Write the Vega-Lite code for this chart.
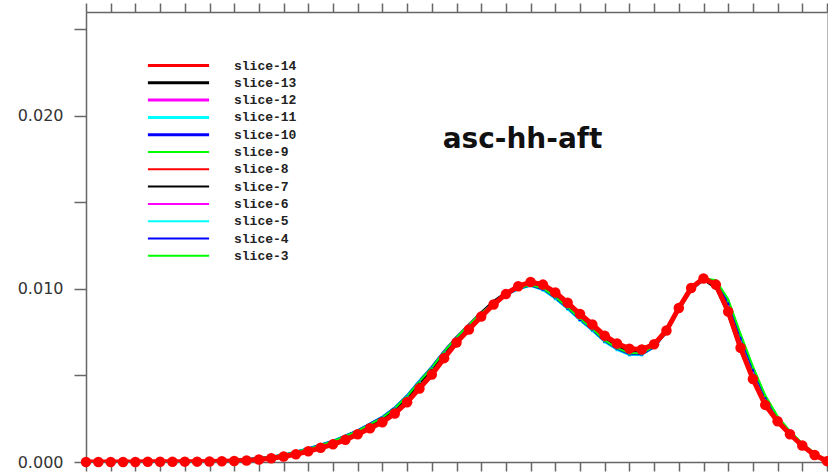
{
 "$schema": "https://vega.github.io/schema/vega-lite/v6.json",
 "width": 741,
 "height": 450,
 "autosize": {"type": "none"},
 "padding": {"left": 86, "top": 12, "right": 1, "bottom": 14},
 "background": "white",
 "view": {"stroke": "#bbbbbb", "strokeWidth": 1},
 "title": {"text": "asc-hh-aft", "font": "DejaVu Sans", "fontSize": 28, "fontWeight": "bold", "color": "#111111", "anchor": "middle", "frame": "group", "dx": 66, "dy": 174, "baseline": "alphabetic", "offset": 0},
 "datasets": {
  "curves": [
{"slice":"slice-14","x":0,"y":0},{"slice":"slice-14","x":0.5,"y":0},{"slice":"slice-14","x":1,"y":0},{"slice":"slice-14","x":1.5,"y":0},{"slice":"slice-14","x":2,"y":0},{"slice":"slice-14","x":2.5,"y":0.00001},{"slice":"slice-14","x":3,"y":0.00001},{"slice":"slice-14","x":3.5,"y":0.00001},{"slice":"slice-14","x":4,"y":0.00002},{"slice":"slice-14","x":4.5,"y":0.00002},{"slice":"slice-14","x":5,"y":0.00003},{"slice":"slice-14","x":5.5,"y":0.00004},{"slice":"slice-14","x":6,"y":0.00006},{"slice":"slice-14","x":6.5,"y":0.00009},{"slice":"slice-14","x":7,"y":0.00014},{"slice":"slice-14","x":7.5,"y":0.00022},{"slice":"slice-14","x":8,"y":0.00032},{"slice":"slice-14","x":8.5,"y":0.00045},{"slice":"slice-14","x":9,"y":0.00062},{"slice":"slice-14","x":9.5,"y":0.00082},{"slice":"slice-14","x":10,"y":0.00102},{"slice":"slice-14","x":10.5,"y":0.00128},{"slice":"slice-14","x":11,"y":0.0016},{"slice":"slice-14","x":11.5,"y":0.00195},{"slice":"slice-14","x":12,"y":0.0023},{"slice":"slice-14","x":12.5,"y":0.0028},{"slice":"slice-14","x":13,"y":0.00345},{"slice":"slice-14","x":13.5,"y":0.00425},{"slice":"slice-14","x":14,"y":0.00505},{"slice":"slice-14","x":14.5,"y":0.006},{"slice":"slice-14","x":15,"y":0.0069},{"slice":"slice-14","x":15.5,"y":0.00765},{"slice":"slice-14","x":16,"y":0.0084},{"slice":"slice-14","x":16.5,"y":0.0091},{"slice":"slice-14","x":17,"y":0.0097},{"slice":"slice-14","x":17.5,"y":0.01015},{"slice":"slice-14","x":18,"y":0.0104},{"slice":"slice-14","x":18.5,"y":0.01025},{"slice":"slice-14","x":19,"y":0.0098},{"slice":"slice-14","x":19.5,"y":0.0092},{"slice":"slice-14","x":20,"y":0.00855},{"slice":"slice-14","x":20.5,"y":0.00795},{"slice":"slice-14","x":21,"y":0.0073},{"slice":"slice-14","x":21.5,"y":0.00685},{"slice":"slice-14","x":22,"y":0.00655},{"slice":"slice-14","x":22.5,"y":0.0065},{"slice":"slice-14","x":23,"y":0.0068},{"slice":"slice-14","x":23.5,"y":0.0076},{"slice":"slice-14","x":24,"y":0.0089},{"slice":"slice-14","x":24.5,"y":0.01005},{"slice":"slice-14","x":25,"y":0.0106},{"slice":"slice-14","x":25.5,"y":0.01025},{"slice":"slice-14","x":26,"y":0.0087},{"slice":"slice-14","x":26.5,"y":0.0066},{"slice":"slice-14","x":27,"y":0.0048},{"slice":"slice-14","x":27.5,"y":0.0033},{"slice":"slice-14","x":28,"y":0.00235},{"slice":"slice-14","x":28.5,"y":0.0016},{"slice":"slice-14","x":29,"y":0.00095},{"slice":"slice-14","x":29.5,"y":0.0004},{"slice":"slice-14","x":30,"y":0.00005},

{"slice":"slice-13","x":0,"y":0},{"slice":"slice-13","x":2,"y":0},{"slice":"slice-13","x":4,"y":0.00002},{"slice":"slice-13","x":6,"y":0.00009},{"slice":"slice-13","x":7,"y":0.0002},{"slice":"slice-13","x":8,"y":0.00038},{"slice":"slice-13","x":9,"y":0.00072},{"slice":"slice-13","x":10,"y":0.00115},{"slice":"slice-13","x":11,"y":0.00175},{"slice":"slice-13","x":12,"y":0.00252},{"slice":"slice-13","x":12.5,"y":0.00305},{"slice":"slice-13","x":13,"y":0.00375},{"slice":"slice-13","x":13.5,"y":0.0046},{"slice":"slice-13","x":14,"y":0.0054},{"slice":"slice-13","x":14.5,"y":0.00635},{"slice":"slice-13","x":15,"y":0.0072},{"slice":"slice-13","x":15.5,"y":0.00795},{"slice":"slice-13","x":16,"y":0.00865},{"slice":"slice-13","x":16.5,"y":0.0093},{"slice":"slice-13","x":17,"y":0.0098},{"slice":"slice-13","x":17.5,"y":0.0102},{"slice":"slice-13","x":18,"y":0.01035},{"slice":"slice-13","x":18.5,"y":0.01015},{"slice":"slice-13","x":19,"y":0.00965},{"slice":"slice-13","x":19.5,"y":0.00905},{"slice":"slice-13","x":20,"y":0.0084},{"slice":"slice-13","x":20.5,"y":0.0078},{"slice":"slice-13","x":21,"y":0.0072},{"slice":"slice-13","x":21.5,"y":0.00675},{"slice":"slice-13","x":22,"y":0.00645},{"slice":"slice-13","x":22.5,"y":0.00645},{"slice":"slice-13","x":23,"y":0.00685},{"slice":"slice-13","x":23.5,"y":0.0077},{"slice":"slice-13","x":24,"y":0.009},{"slice":"slice-13","x":24.5,"y":0.0101},{"slice":"slice-13","x":25,"y":0.01055},{"slice":"slice-13","x":25.5,"y":0.0101},{"slice":"slice-13","x":26,"y":0.0085},{"slice":"slice-13","x":26.5,"y":0.0064},{"slice":"slice-13","x":27,"y":0.0047},{"slice":"slice-13","x":27.5,"y":0.0033},{"slice":"slice-13","x":28,"y":0.00235},{"slice":"slice-13","x":28.5,"y":0.0016},{"slice":"slice-13","x":29,"y":0.00095},{"slice":"slice-13","x":29.5,"y":0.00042},{"slice":"slice-13","x":30,"y":0.00006},

{"slice":"slice-12","x":0,"y":0},{"slice":"slice-12","x":2,"y":0},{"slice":"slice-12","x":4,"y":0.00002},{"slice":"slice-12","x":6,"y":0.0001},{"slice":"slice-12","x":7,"y":0.00022},{"slice":"slice-12","x":8,"y":0.0004},{"slice":"slice-12","x":9,"y":0.00076},{"slice":"slice-12","x":10,"y":0.0012},{"slice":"slice-12","x":11,"y":0.0018},{"slice":"slice-12","x":12,"y":0.00258},{"slice":"slice-12","x":12.5,"y":0.00312},{"slice":"slice-12","x":13,"y":0.00382},{"slice":"slice-12","x":13.5,"y":0.00468},{"slice":"slice-12","x":14,"y":0.00548},{"slice":"slice-12","x":14.5,"y":0.0064},{"slice":"slice-12","x":15,"y":0.00722},{"slice":"slice-12","x":15.5,"y":0.00795},{"slice":"slice-12","x":16,"y":0.0086},{"slice":"slice-12","x":16.5,"y":0.0092},{"slice":"slice-12","x":17,"y":0.0097},{"slice":"slice-12","x":17.5,"y":0.01005},{"slice":"slice-12","x":18,"y":0.01025},{"slice":"slice-12","x":18.5,"y":0.01005},{"slice":"slice-12","x":19,"y":0.00955},{"slice":"slice-12","x":19.5,"y":0.00895},{"slice":"slice-12","x":20,"y":0.0083},{"slice":"slice-12","x":20.5,"y":0.0077},{"slice":"slice-12","x":21,"y":0.00705},{"slice":"slice-12","x":21.5,"y":0.0066},{"slice":"slice-12","x":22,"y":0.0063},{"slice":"slice-12","x":22.5,"y":0.0063},{"slice":"slice-12","x":23,"y":0.0067},{"slice":"slice-12","x":23.5,"y":0.00755},{"slice":"slice-12","x":24,"y":0.00885},{"slice":"slice-12","x":24.5,"y":0.01},{"slice":"slice-12","x":25,"y":0.01055},{"slice":"slice-12","x":25.5,"y":0.01035},{"slice":"slice-12","x":26,"y":0.009},{"slice":"slice-12","x":26.5,"y":0.007},{"slice":"slice-12","x":27,"y":0.0052},{"slice":"slice-12","x":27.5,"y":0.0036},{"slice":"slice-12","x":28,"y":0.0025},{"slice":"slice-12","x":28.5,"y":0.0017},{"slice":"slice-12","x":29,"y":0.001},{"slice":"slice-12","x":29.5,"y":0.00045},{"slice":"slice-12","x":30,"y":0.00008},

{"slice":"slice-11","x":0,"y":0},{"slice":"slice-11","x":2,"y":0},{"slice":"slice-11","x":4,"y":0.00002},{"slice":"slice-11","x":6,"y":0.0001},{"slice":"slice-11","x":7,"y":0.00023},{"slice":"slice-11","x":8,"y":0.00041},{"slice":"slice-11","x":9,"y":0.00078},{"slice":"slice-11","x":10,"y":0.00122},{"slice":"slice-11","x":11,"y":0.00182},{"slice":"slice-11","x":12,"y":0.0026},{"slice":"slice-11","x":12.5,"y":0.00315},{"slice":"slice-11","x":13,"y":0.00385},{"slice":"slice-11","x":13.5,"y":0.0047},{"slice":"slice-11","x":14,"y":0.0055},{"slice":"slice-11","x":14.5,"y":0.0064},{"slice":"slice-11","x":15,"y":0.0072},{"slice":"slice-11","x":15.5,"y":0.0079},{"slice":"slice-11","x":16,"y":0.00855},{"slice":"slice-11","x":16.5,"y":0.00915},{"slice":"slice-11","x":17,"y":0.00965},{"slice":"slice-11","x":17.5,"y":0.01},{"slice":"slice-11","x":18,"y":0.0102},{"slice":"slice-11","x":18.5,"y":0.00995},{"slice":"slice-11","x":19,"y":0.00945},{"slice":"slice-11","x":19.5,"y":0.00885},{"slice":"slice-11","x":20,"y":0.0082},{"slice":"slice-11","x":20.5,"y":0.0076},{"slice":"slice-11","x":21,"y":0.00695},{"slice":"slice-11","x":21.5,"y":0.0065},{"slice":"slice-11","x":22,"y":0.0062},{"slice":"slice-11","x":22.5,"y":0.0062},{"slice":"slice-11","x":23,"y":0.00665},{"slice":"slice-11","x":23.5,"y":0.0075},{"slice":"slice-11","x":24,"y":0.0088},{"slice":"slice-11","x":24.5,"y":0.00995},{"slice":"slice-11","x":25,"y":0.0105},{"slice":"slice-11","x":25.5,"y":0.0103},{"slice":"slice-11","x":26,"y":0.0089},{"slice":"slice-11","x":26.5,"y":0.0069},{"slice":"slice-11","x":27,"y":0.0051},{"slice":"slice-11","x":27.5,"y":0.00355},{"slice":"slice-11","x":28,"y":0.00245},{"slice":"slice-11","x":28.5,"y":0.00165},{"slice":"slice-11","x":29,"y":0.00098},{"slice":"slice-11","x":29.5,"y":0.00044},{"slice":"slice-11","x":30,"y":0.00007},

{"slice":"slice-10","x":0,"y":0},{"slice":"slice-10","x":2,"y":0},{"slice":"slice-10","x":4,"y":0.00002},{"slice":"slice-10","x":6,"y":0.0001},{"slice":"slice-10","x":7,"y":0.00022},{"slice":"slice-10","x":8,"y":0.0004},{"slice":"slice-10","x":9,"y":0.00077},{"slice":"slice-10","x":10,"y":0.00121},{"slice":"slice-10","x":11,"y":0.00181},{"slice":"slice-10","x":12,"y":0.00259},{"slice":"slice-10","x":12.5,"y":0.00313},{"slice":"slice-10","x":13,"y":0.00383},{"slice":"slice-10","x":13.5,"y":0.00468},{"slice":"slice-10","x":14,"y":0.00548},{"slice":"slice-10","x":14.5,"y":0.0064},{"slice":"slice-10","x":15,"y":0.00722},{"slice":"slice-10","x":15.5,"y":0.00793},{"slice":"slice-10","x":16,"y":0.00858},{"slice":"slice-10","x":16.5,"y":0.00918},{"slice":"slice-10","x":17,"y":0.00968},{"slice":"slice-10","x":17.5,"y":0.01003},{"slice":"slice-10","x":18,"y":0.01022},{"slice":"slice-10","x":18.5,"y":0.01},{"slice":"slice-10","x":19,"y":0.0095},{"slice":"slice-10","x":19.5,"y":0.0089},{"slice":"slice-10","x":20,"y":0.00825},{"slice":"slice-10","x":20.5,"y":0.00765},{"slice":"slice-10","x":21,"y":0.007},{"slice":"slice-10","x":21.5,"y":0.00655},{"slice":"slice-10","x":22,"y":0.00625},{"slice":"slice-10","x":22.5,"y":0.00625},{"slice":"slice-10","x":23,"y":0.00665},{"slice":"slice-10","x":23.5,"y":0.0075},{"slice":"slice-10","x":24,"y":0.0088},{"slice":"slice-10","x":24.5,"y":0.00995},{"slice":"slice-10","x":25,"y":0.01055},{"slice":"slice-10","x":25.5,"y":0.0104},{"slice":"slice-10","x":26,"y":0.00915},{"slice":"slice-10","x":26.5,"y":0.00715},{"slice":"slice-10","x":27,"y":0.0053},{"slice":"slice-10","x":27.5,"y":0.0037},{"slice":"slice-10","x":28,"y":0.00255},{"slice":"slice-10","x":28.5,"y":0.00172},{"slice":"slice-10","x":29,"y":0.00102},{"slice":"slice-10","x":29.5,"y":0.00047},{"slice":"slice-10","x":30,"y":0.00009},

{"slice":"slice-9","x":0,"y":0},{"slice":"slice-9","x":2,"y":0},{"slice":"slice-9","x":4,"y":0.00002},{"slice":"slice-9","x":6,"y":0.0001},{"slice":"slice-9","x":7,"y":0.00022},{"slice":"slice-9","x":8,"y":0.0004},{"slice":"slice-9","x":9,"y":0.00075},{"slice":"slice-9","x":10,"y":0.00119},{"slice":"slice-9","x":11,"y":0.00179},{"slice":"slice-9","x":12,"y":0.00256},{"slice":"slice-9","x":12.5,"y":0.0031},{"slice":"slice-9","x":13,"y":0.0038},{"slice":"slice-9","x":13.5,"y":0.00465},{"slice":"slice-9","x":14,"y":0.00545},{"slice":"slice-9","x":14.5,"y":0.00638},{"slice":"slice-9","x":15,"y":0.0072},{"slice":"slice-9","x":15.5,"y":0.00793},{"slice":"slice-9","x":16,"y":0.00858},{"slice":"slice-9","x":16.5,"y":0.00918},{"slice":"slice-9","x":17,"y":0.00968},{"slice":"slice-9","x":17.5,"y":0.01005},{"slice":"slice-9","x":18,"y":0.01025},{"slice":"slice-9","x":18.5,"y":0.01005},{"slice":"slice-9","x":19,"y":0.00955},{"slice":"slice-9","x":19.5,"y":0.00895},{"slice":"slice-9","x":20,"y":0.0083},{"slice":"slice-9","x":20.5,"y":0.0077},{"slice":"slice-9","x":21,"y":0.00705},{"slice":"slice-9","x":21.5,"y":0.0066},{"slice":"slice-9","x":22,"y":0.0063},{"slice":"slice-9","x":22.5,"y":0.0063},{"slice":"slice-9","x":23,"y":0.0067},{"slice":"slice-9","x":23.5,"y":0.00752},{"slice":"slice-9","x":24,"y":0.0088},{"slice":"slice-9","x":24.5,"y":0.00998},{"slice":"slice-9","x":25,"y":0.0106},{"slice":"slice-9","x":25.5,"y":0.01045},{"slice":"slice-9","x":26,"y":0.0093},{"slice":"slice-9","x":26.5,"y":0.0073},{"slice":"slice-9","x":27,"y":0.00545},{"slice":"slice-9","x":27.5,"y":0.0038},{"slice":"slice-9","x":28,"y":0.0026},{"slice":"slice-9","x":28.5,"y":0.00175},{"slice":"slice-9","x":29,"y":0.00105},{"slice":"slice-9","x":29.5,"y":0.0005},{"slice":"slice-9","x":30,"y":0.0001},

{"slice":"slice-8","x":0,"y":0},{"slice":"slice-8","x":2,"y":0},{"slice":"slice-8","x":4,"y":0.00002},{"slice":"slice-8","x":6,"y":0.00008},{"slice":"slice-8","x":7,"y":0.00018},{"slice":"slice-8","x":8,"y":0.00036},{"slice":"slice-8","x":9,"y":0.00068},{"slice":"slice-8","x":10,"y":0.0011},{"slice":"slice-8","x":11,"y":0.0017},{"slice":"slice-8","x":12,"y":0.00245},{"slice":"slice-8","x":12.5,"y":0.00298},{"slice":"slice-8","x":13,"y":0.00365},{"slice":"slice-8","x":13.5,"y":0.0045},{"slice":"slice-8","x":14,"y":0.0053},{"slice":"slice-8","x":14.5,"y":0.00625},{"slice":"slice-8","x":15,"y":0.0071},{"slice":"slice-8","x":15.5,"y":0.00785},{"slice":"slice-8","x":16,"y":0.0086},{"slice":"slice-8","x":16.5,"y":0.00925},{"slice":"slice-8","x":17,"y":0.00978},{"slice":"slice-8","x":17.5,"y":0.0102},{"slice":"slice-8","x":18,"y":0.01038},{"slice":"slice-8","x":18.5,"y":0.0102},{"slice":"slice-8","x":19,"y":0.0097},{"slice":"slice-8","x":19.5,"y":0.0091},{"slice":"slice-8","x":20,"y":0.00845},{"slice":"slice-8","x":20.5,"y":0.00785},{"slice":"slice-8","x":21,"y":0.00722},{"slice":"slice-8","x":21.5,"y":0.00678},{"slice":"slice-8","x":22,"y":0.00648},{"slice":"slice-8","x":22.5,"y":0.00645},{"slice":"slice-8","x":23,"y":0.00682},{"slice":"slice-8","x":23.5,"y":0.00765},{"slice":"slice-8","x":24,"y":0.00895},{"slice":"slice-8","x":24.5,"y":0.01008},{"slice":"slice-8","x":25,"y":0.01058},{"slice":"slice-8","x":25.5,"y":0.0102},{"slice":"slice-8","x":26,"y":0.0086},{"slice":"slice-8","x":26.5,"y":0.0065},{"slice":"slice-8","x":27,"y":0.00475},{"slice":"slice-8","x":27.5,"y":0.00332},{"slice":"slice-8","x":28,"y":0.00235},{"slice":"slice-8","x":28.5,"y":0.0016},{"slice":"slice-8","x":29,"y":0.00095},{"slice":"slice-8","x":29.5,"y":0.00042},{"slice":"slice-8","x":30,"y":0.00006},

{"slice":"slice-7","x":0,"y":0},{"slice":"slice-7","x":2,"y":0},{"slice":"slice-7","x":4,"y":0.00002},{"slice":"slice-7","x":6,"y":0.00009},{"slice":"slice-7","x":7,"y":0.0002},{"slice":"slice-7","x":8,"y":0.00037},{"slice":"slice-7","x":9,"y":0.0007},{"slice":"slice-7","x":10,"y":0.00113},{"slice":"slice-7","x":11,"y":0.00173},{"slice":"slice-7","x":12,"y":0.0025},{"slice":"slice-7","x":12.5,"y":0.00302},{"slice":"slice-7","x":13,"y":0.0037},{"slice":"slice-7","x":13.5,"y":0.00456},{"slice":"slice-7","x":14,"y":0.00535},{"slice":"slice-7","x":14.5,"y":0.0063},{"slice":"slice-7","x":15,"y":0.00716},{"slice":"slice-7","x":15.5,"y":0.00792},{"slice":"slice-7","x":16,"y":0.00862},{"slice":"slice-7","x":16.5,"y":0.00927},{"slice":"slice-7","x":17,"y":0.00978},{"slice":"slice-7","x":17.5,"y":0.01018},{"slice":"slice-7","x":18,"y":0.0103},{"slice":"slice-7","x":18.5,"y":0.0101},{"slice":"slice-7","x":19,"y":0.0096},{"slice":"slice-7","x":19.5,"y":0.009},{"slice":"slice-7","x":20,"y":0.00835},{"slice":"slice-7","x":20.5,"y":0.00775},{"slice":"slice-7","x":21,"y":0.00715},{"slice":"slice-7","x":21.5,"y":0.0067},{"slice":"slice-7","x":22,"y":0.0064},{"slice":"slice-7","x":22.5,"y":0.0064},{"slice":"slice-7","x":23,"y":0.0068},{"slice":"slice-7","x":23.5,"y":0.00765},{"slice":"slice-7","x":24,"y":0.00895},{"slice":"slice-7","x":24.5,"y":0.01005},{"slice":"slice-7","x":25,"y":0.01052},{"slice":"slice-7","x":25.5,"y":0.01005},{"slice":"slice-7","x":26,"y":0.0086},{"slice":"slice-7","x":26.5,"y":0.0065},{"slice":"slice-7","x":27,"y":0.00472},{"slice":"slice-7","x":27.5,"y":0.0033},{"slice":"slice-7","x":28,"y":0.00235},{"slice":"slice-7","x":28.5,"y":0.0016},{"slice":"slice-7","x":29,"y":0.00095},{"slice":"slice-7","x":29.5,"y":0.00042},{"slice":"slice-7","x":30,"y":0.00006},

{"slice":"slice-6","x":0,"y":0},{"slice":"slice-6","x":2,"y":0},{"slice":"slice-6","x":4,"y":0.00002},{"slice":"slice-6","x":6,"y":0.0001},{"slice":"slice-6","x":7,"y":0.00022},{"slice":"slice-6","x":8,"y":0.00041},{"slice":"slice-6","x":9,"y":0.00077},{"slice":"slice-6","x":10,"y":0.00121},{"slice":"slice-6","x":11,"y":0.00181},{"slice":"slice-6","x":12,"y":0.0026},{"slice":"slice-6","x":12.5,"y":0.00314},{"slice":"slice-6","x":13,"y":0.00384},{"slice":"slice-6","x":13.5,"y":0.0047},{"slice":"slice-6","x":14,"y":0.0055},{"slice":"slice-6","x":14.5,"y":0.00642},{"slice":"slice-6","x":15,"y":0.00723},{"slice":"slice-6","x":15.5,"y":0.00796},{"slice":"slice-6","x":16,"y":0.0086},{"slice":"slice-6","x":16.5,"y":0.0092},{"slice":"slice-6","x":17,"y":0.00968},{"slice":"slice-6","x":17.5,"y":0.01003},{"slice":"slice-6","x":18,"y":0.01022},{"slice":"slice-6","x":18.5,"y":0.01002},{"slice":"slice-6","x":19,"y":0.00952},{"slice":"slice-6","x":19.5,"y":0.00892},{"slice":"slice-6","x":20,"y":0.00827},{"slice":"slice-6","x":20.5,"y":0.00767},{"slice":"slice-6","x":21,"y":0.00702},{"slice":"slice-6","x":21.5,"y":0.00657},{"slice":"slice-6","x":22,"y":0.00628},{"slice":"slice-6","x":22.5,"y":0.00628},{"slice":"slice-6","x":23,"y":0.00668},{"slice":"slice-6","x":23.5,"y":0.00753},{"slice":"slice-6","x":24,"y":0.00883},{"slice":"slice-6","x":24.5,"y":0.00998},{"slice":"slice-6","x":25,"y":0.01053},{"slice":"slice-6","x":25.5,"y":0.01032},{"slice":"slice-6","x":26,"y":0.00895},{"slice":"slice-6","x":26.5,"y":0.00695},{"slice":"slice-6","x":27,"y":0.00515},{"slice":"slice-6","x":27.5,"y":0.00358},{"slice":"slice-6","x":28,"y":0.00248},{"slice":"slice-6","x":28.5,"y":0.00168},{"slice":"slice-6","x":29,"y":0.001},{"slice":"slice-6","x":29.5,"y":0.00045},{"slice":"slice-6","x":30,"y":0.00008},

{"slice":"slice-5","x":0,"y":0},{"slice":"slice-5","x":2,"y":0},{"slice":"slice-5","x":4,"y":0.00002},{"slice":"slice-5","x":6,"y":0.0001},{"slice":"slice-5","x":7,"y":0.00023},{"slice":"slice-5","x":8,"y":0.00042},{"slice":"slice-5","x":9,"y":0.00079},{"slice":"slice-5","x":10,"y":0.00123},{"slice":"slice-5","x":11,"y":0.00183},{"slice":"slice-5","x":12,"y":0.00262},{"slice":"slice-5","x":12.5,"y":0.00316},{"slice":"slice-5","x":13,"y":0.00386},{"slice":"slice-5","x":13.5,"y":0.00471},{"slice":"slice-5","x":14,"y":0.00551},{"slice":"slice-5","x":14.5,"y":0.00641},{"slice":"slice-5","x":15,"y":0.00721},{"slice":"slice-5","x":15.5,"y":0.0079},{"slice":"slice-5","x":16,"y":0.00854},{"slice":"slice-5","x":16.5,"y":0.00913},{"slice":"slice-5","x":17,"y":0.00962},{"slice":"slice-5","x":17.5,"y":0.00998},{"slice":"slice-5","x":18,"y":0.01018},{"slice":"slice-5","x":18.5,"y":0.00993},{"slice":"slice-5","x":19,"y":0.00943},{"slice":"slice-5","x":19.5,"y":0.00883},{"slice":"slice-5","x":20,"y":0.00818},{"slice":"slice-5","x":20.5,"y":0.00758},{"slice":"slice-5","x":21,"y":0.00693},{"slice":"slice-5","x":21.5,"y":0.00648},{"slice":"slice-5","x":22,"y":0.00618},{"slice":"slice-5","x":22.5,"y":0.00618},{"slice":"slice-5","x":23,"y":0.00663},{"slice":"slice-5","x":23.5,"y":0.00748},{"slice":"slice-5","x":24,"y":0.00878},{"slice":"slice-5","x":24.5,"y":0.00993},{"slice":"slice-5","x":25,"y":0.0105},{"slice":"slice-5","x":25.5,"y":0.01032},{"slice":"slice-5","x":26,"y":0.00895},{"slice":"slice-5","x":26.5,"y":0.00695},{"slice":"slice-5","x":27,"y":0.00512},{"slice":"slice-5","x":27.5,"y":0.00356},{"slice":"slice-5","x":28,"y":0.00246},{"slice":"slice-5","x":28.5,"y":0.00166},{"slice":"slice-5","x":29,"y":0.00099},{"slice":"slice-5","x":29.5,"y":0.00044},{"slice":"slice-5","x":30,"y":0.00007},

{"slice":"slice-4","x":0,"y":0},{"slice":"slice-4","x":2,"y":0},{"slice":"slice-4","x":4,"y":0.00002},{"slice":"slice-4","x":6,"y":0.0001},{"slice":"slice-4","x":7,"y":0.00022},{"slice":"slice-4","x":8,"y":0.00041},{"slice":"slice-4","x":9,"y":0.00078},{"slice":"slice-4","x":10,"y":0.00122},{"slice":"slice-4","x":11,"y":0.00182},{"slice":"slice-4","x":12,"y":0.0026},{"slice":"slice-4","x":12.5,"y":0.00314},{"slice":"slice-4","x":13,"y":0.00384},{"slice":"slice-4","x":13.5,"y":0.00469},{"slice":"slice-4","x":14,"y":0.00549},{"slice":"slice-4","x":14.5,"y":0.0064},{"slice":"slice-4","x":15,"y":0.00721},{"slice":"slice-4","x":15.5,"y":0.00792},{"slice":"slice-4","x":16,"y":0.00856},{"slice":"slice-4","x":16.5,"y":0.00916},{"slice":"slice-4","x":17,"y":0.00966},{"slice":"slice-4","x":17.5,"y":0.01001},{"slice":"slice-4","x":18,"y":0.0102},{"slice":"slice-4","x":18.5,"y":0.00998},{"slice":"slice-4","x":19,"y":0.00948},{"slice":"slice-4","x":19.5,"y":0.00888},{"slice":"slice-4","x":20,"y":0.00823},{"slice":"slice-4","x":20.5,"y":0.00763},{"slice":"slice-4","x":21,"y":0.00698},{"slice":"slice-4","x":21.5,"y":0.00653},{"slice":"slice-4","x":22,"y":0.00623},{"slice":"slice-4","x":22.5,"y":0.00623},{"slice":"slice-4","x":23,"y":0.00663},{"slice":"slice-4","x":23.5,"y":0.00748},{"slice":"slice-4","x":24,"y":0.00878},{"slice":"slice-4","x":24.5,"y":0.00993},{"slice":"slice-4","x":25,"y":0.01055},{"slice":"slice-4","x":25.5,"y":0.01042},{"slice":"slice-4","x":26,"y":0.0092},{"slice":"slice-4","x":26.5,"y":0.0072},{"slice":"slice-4","x":27,"y":0.00535},{"slice":"slice-4","x":27.5,"y":0.00372},{"slice":"slice-4","x":28,"y":0.00256},{"slice":"slice-4","x":28.5,"y":0.00173},{"slice":"slice-4","x":29,"y":0.00103},{"slice":"slice-4","x":29.5,"y":0.00048},{"slice":"slice-4","x":30,"y":0.00009},

{"slice":"slice-3","x":0,"y":0},{"slice":"slice-3","x":2,"y":0},{"slice":"slice-3","x":4,"y":0.00002},{"slice":"slice-3","x":6,"y":0.0001},{"slice":"slice-3","x":7,"y":0.00022},{"slice":"slice-3","x":8,"y":0.00041},{"slice":"slice-3","x":9,"y":0.00076},{"slice":"slice-3","x":10,"y":0.0012},{"slice":"slice-3","x":11,"y":0.0018},{"slice":"slice-3","x":12,"y":0.00257},{"slice":"slice-3","x":12.5,"y":0.00311},{"slice":"slice-3","x":13,"y":0.00381},{"slice":"slice-3","x":13.5,"y":0.00466},{"slice":"slice-3","x":14,"y":0.00546},{"slice":"slice-3","x":14.5,"y":0.00639},{"slice":"slice-3","x":15,"y":0.00721},{"slice":"slice-3","x":15.5,"y":0.00794},{"slice":"slice-3","x":16,"y":0.00859},{"slice":"slice-3","x":16.5,"y":0.00919},{"slice":"slice-3","x":17,"y":0.00969},{"slice":"slice-3","x":17.5,"y":0.01004},{"slice":"slice-3","x":18,"y":0.01023},{"slice":"slice-3","x":18.5,"y":0.01003},{"slice":"slice-3","x":19,"y":0.00953},{"slice":"slice-3","x":19.5,"y":0.00893},{"slice":"slice-3","x":20,"y":0.00828},{"slice":"slice-3","x":20.5,"y":0.00768},{"slice":"slice-3","x":21,"y":0.00703},{"slice":"slice-3","x":21.5,"y":0.00658},{"slice":"slice-3","x":22,"y":0.00628},{"slice":"slice-3","x":22.5,"y":0.00628},{"slice":"slice-3","x":23,"y":0.00668},{"slice":"slice-3","x":23.5,"y":0.0075},{"slice":"slice-3","x":24,"y":0.00878},{"slice":"slice-3","x":24.5,"y":0.00996},{"slice":"slice-3","x":25,"y":0.01062},{"slice":"slice-3","x":25.5,"y":0.0105},{"slice":"slice-3","x":26,"y":0.0094},{"slice":"slice-3","x":26.5,"y":0.0074},{"slice":"slice-3","x":27,"y":0.00552},{"slice":"slice-3","x":27.5,"y":0.00385},{"slice":"slice-3","x":28,"y":0.00264},{"slice":"slice-3","x":28.5,"y":0.00178},{"slice":"slice-3","x":29,"y":0.00107},{"slice":"slice-3","x":29.5,"y":0.00052},{"slice":"slice-3","x":30,"y":0.00011}
  ]
 },
 "data": {"name": "curves"},
 "layer": [
  {
   "mark": {"type": "line", "strokeWidth": 2, "clip": true},
   "encoding": {
    "x": {"field": "x", "type": "quantitative", "scale": {"domain": [0, 30], "nice": false, "zero": false},
          "axis": {"orient": "bottom", "values": [0,1,2,3,4,5,6,7,8,9,10,11,12,13,14,15,16,17,18,19,20,21,22,23,24,25,26,27,28,29,30], "labels": false, "tickSize": 9, "title": null, "grid": false, "domainColor": "#666666", "tickColor": "#666666", "domainWidth": 1.5, "tickWidth": 1.5}},
    "y": {"field": "y", "type": "quantitative", "scale": {"domain": [0, 0.026], "nice": false},
          "axis": {"values": [0, 0.005, 0.01, 0.015, 0.02, 0.025], "tickSize": 12, "labelPadding": 11, "labelExpr": "round(datum.value*1000) % 10 == 0 ? format(datum.value, '.3f') : ''", "labelFont": "DejaVu Sans", "labelFontSize": 16, "labelColor": "#333333", "title": null, "grid": false, "domainColor": "#666666", "tickColor": "#666666", "domainWidth": 1.5, "tickWidth": 1.5}},
    "color": {"field": "slice", "type": "nominal",
              "scale": {"domain": ["slice-14","slice-13","slice-12","slice-11","slice-10","slice-9","slice-8","slice-7","slice-6","slice-5","slice-4","slice-3"],
                        "range": ["#ff0000","#000000","#ff00ff","#00ffff","#0000ff","#00ff00","#ff0000","#000000","#ff00ff","#00ffff","#0000ff","#00ff00"]},
              "legend": {"orient": "none", "legendX": 86, "legendY": 47, "title": null, "symbolType": "M-10.2,0L10.2,0", "symbolSize": 36, "symbolStrokeWidth": 3, "labelOffset": 49, "rowPadding": 3.3, "padding": 0, "labelFont": "Liberation Mono", "labelFontWeight": "bold", "labelFontSize": 13, "labelColor": "#222222",
                         "encode": {"symbols": {"update": {"strokeWidth": {"signal": "datum.index < 5 ? 3 : 2"}, "fill": {"value": "transparent"}}}}}}
   }
  },
  {
   "transform": [{"filter": "datum.slice != 'slice-14'"}],
   "mark": {"type": "point", "shape": "triangle-up", "filled": true, "size": 10, "opacity": 1},
   "encoding": {
    "x": {"field": "x", "type": "quantitative",
          "axis": {"orient": "top", "values": [0,1,2,3,4,5,6,7,8,9,10,11,12,13,14,15,16,17,18,19,20,21,22,23,24,25,26,27,28,29,30], "labels": false, "tickSize": 9, "title": null, "grid": false, "domainColor": "#666666", "tickColor": "#666666", "domainWidth": 1.5, "tickWidth": 1.5}},
    "y": {"field": "y", "type": "quantitative"},
    "color": {"field": "slice", "type": "nominal", "legend": null}
   }
  },
  {
   "transform": [{"filter": "datum.slice == 'slice-14'"}],
   "mark": {"type": "line", "strokeWidth": 5, "color": "#ff0000", "clip": true},
   "encoding": {
    "x": {"field": "x", "type": "quantitative", "axis": null},
    "y": {"field": "y", "type": "quantitative"}
   }
  },
  {
   "transform": [{"filter": "datum.slice == 'slice-14'"}],
   "mark": {"type": "point", "shape": "circle", "filled": true, "size": 110, "opacity": 1, "color": "#ff0000"},
   "encoding": {
    "x": {"field": "x", "type": "quantitative", "axis": null},
    "y": {"field": "y", "type": "quantitative"}
   }
  }
 ],
 "resolve": {"axis": {"x": "independent"}}
}
